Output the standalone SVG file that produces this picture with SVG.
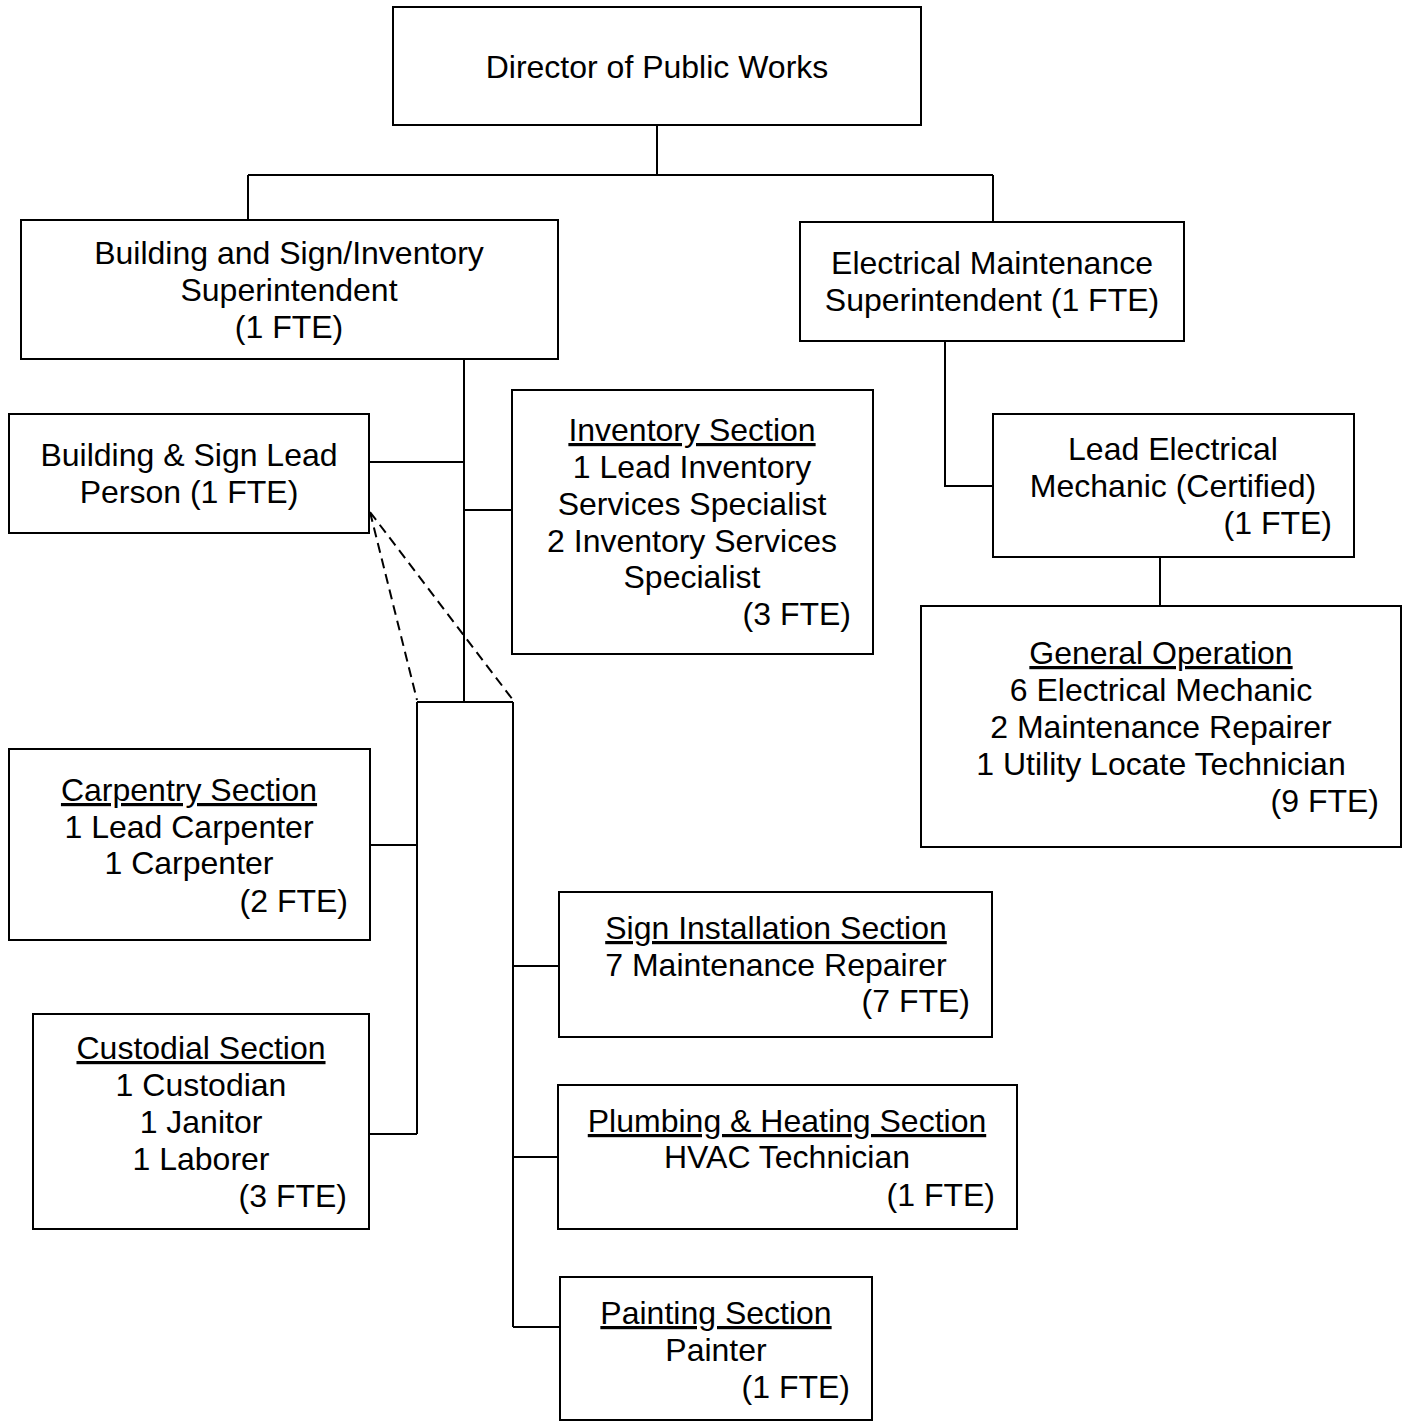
<svg xmlns="http://www.w3.org/2000/svg" width="1408" height="1421" viewBox="0 0 1408 1421">
<style>
.box{fill:#fff;stroke:#000;stroke-width:2}
.ln{fill:none;stroke:#000;stroke-width:2}
.dash{fill:none;stroke:#000;stroke-width:2;stroke-dasharray:10 6}
text{font-family:"Liberation Sans",Arial,sans-serif;font-size:32px;fill:#000}
.c{text-anchor:middle}
.r{text-anchor:end}
.u{text-decoration:underline}
</style>
<rect width="1408" height="1421" fill="#fff"/>
<g id="connectors">
<path class="ln" d="M657 125V175M248 175H993M248 175V220M993 175V222"/>
<path class="ln" d="M464 359V702M369 462H464M464 510H512M417 702H513"/>
<path class="ln" d="M417 702V1134M370 845H417M369 1134H417"/>
<path class="ln" d="M513 702V1327M513 966H559M513 1157H558M513 1327H560"/>
<path class="dash" d="M370 512L417 700M370 512L513 700"/>
<path class="ln" d="M945 341V486H993M1160 557V606"/>
</g>
<g id="director">
<rect class="box" x="393" y="7" width="528" height="118"/>
<text class="c" x="657" y="78">Director of Public Works</text>
</g>
<g id="building-super">
<rect class="box" x="21" y="220" width="537" height="139"/>
<text class="c" x="289" y="264">Building and Sign/Inventory</text>
<text class="c" x="289" y="301">Superintendent</text>
<text class="c" x="289" y="338">(1 FTE)</text>
</g>
<g id="electrical-super">
<rect class="box" x="800" y="222" width="384" height="119"/>
<text class="c" x="992" y="274">Electrical Maintenance</text>
<text class="c" x="992" y="311">Superintendent (1 FTE)</text>
</g>
<g id="lead-person">
<rect class="box" x="9" y="414" width="360" height="119"/>
<text class="c" x="189" y="466">Building &amp; Sign Lead</text>
<text class="c" x="189" y="503">Person (1 FTE)</text>
</g>
<g id="inventory">
<rect class="box" x="512" y="390" width="361" height="264"/>
<text class="c u" x="692" y="441">Inventory Section</text>
<text class="c" x="692" y="478">1 Lead Inventory</text>
<text class="c" x="692" y="515">Services Specialist</text>
<text class="c" x="692" y="552">2 Inventory Services</text>
<text class="c" x="692" y="588">Specialist</text>
<text class="r" x="851" y="625">(3 FTE)</text>
</g>
<g id="lead-electrical">
<rect class="box" x="993" y="414" width="361" height="143"/>
<text class="c" x="1173" y="460">Lead Electrical</text>
<text class="c" x="1173" y="497">Mechanic (Certified)</text>
<text class="r" x="1332" y="534">(1 FTE)</text>
</g>
<g id="general-operation">
<rect class="box" x="921" y="606" width="480" height="241"/>
<text class="c u" x="1161" y="664">General Operation</text>
<text class="c" x="1161" y="701">6 Electrical Mechanic</text>
<text class="c" x="1161" y="738">2 Maintenance Repairer</text>
<text class="c" x="1161" y="775">1 Utility Locate Technician</text>
<text class="r" x="1379" y="812">(9 FTE)</text>
</g>
<g id="carpentry">
<rect class="box" x="9" y="749" width="361" height="191"/>
<text class="c u" x="189" y="801">Carpentry Section</text>
<text class="c" x="189" y="838">1 Lead Carpenter</text>
<text class="c" x="189" y="874">1 Carpenter</text>
<text class="r" x="348" y="912">(2 FTE)</text>
</g>
<g id="custodial">
<rect class="box" x="33" y="1014" width="336" height="215"/>
<text class="c u" x="201" y="1059">Custodial Section</text>
<text class="c" x="201" y="1096">1 Custodian</text>
<text class="c" x="201" y="1133">1 Janitor</text>
<text class="c" x="201" y="1170">1 Laborer</text>
<text class="r" x="347" y="1207">(3 FTE)</text>
</g>
<g id="sign-installation">
<rect class="box" x="559" y="892" width="433" height="145"/>
<text class="c u" x="776" y="939">Sign Installation Section</text>
<text class="c" x="776" y="976">7 Maintenance Repairer</text>
<text class="r" x="970" y="1012">(7 FTE)</text>
</g>
<g id="plumbing">
<rect class="box" x="558" y="1085" width="459" height="144"/>
<text class="c u" x="787" y="1132">Plumbing &amp; Heating Section</text>
<text class="c" x="787" y="1168">HVAC Technician</text>
<text class="r" x="995" y="1206">(1 FTE)</text>
</g>
<g id="painting">
<rect class="box" x="560" y="1277" width="312" height="143"/>
<text class="c u" x="716" y="1324">Painting Section</text>
<text class="c" x="716" y="1361">Painter</text>
<text class="r" x="850" y="1398">(1 FTE)</text>
</g>
</svg>
